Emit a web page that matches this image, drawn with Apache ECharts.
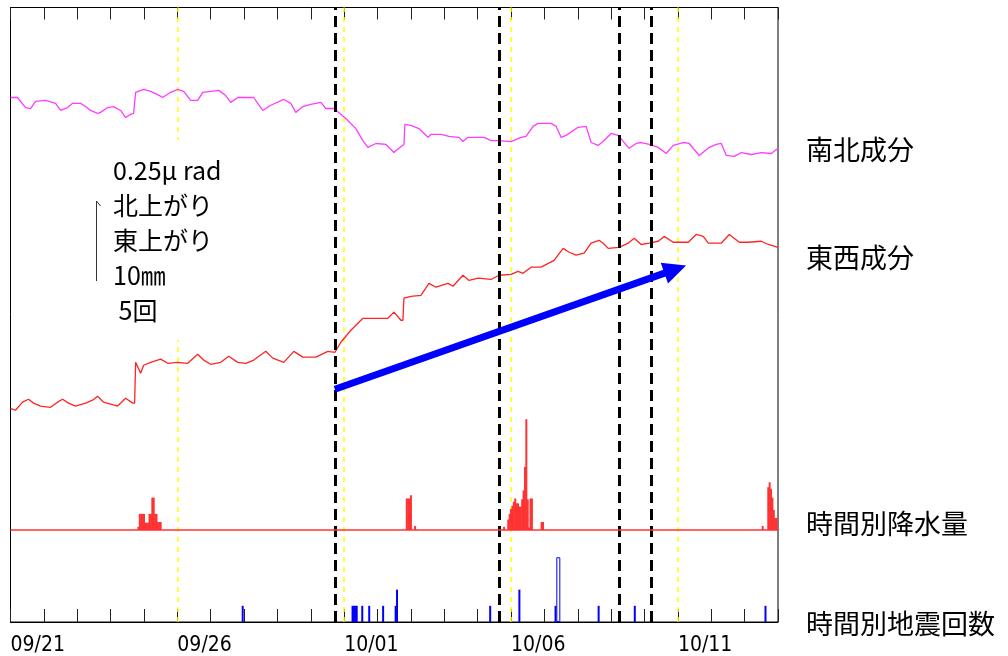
<!DOCTYPE html>
<html>
<head>
<meta charset="utf-8">
<script src="https://cdn.jsdelivr.net/npm/echarts@6/dist/echarts.min.js"></script>
<style>
html,body{margin:0;padding:0;background:#fff;}
#main{width:1008px;height:656px;}
</style>
</head>
<body>
<div id="main"></div>
<script>
// ---- data (x in days from 09/21 00:00 for tilt; hours for rain/quakes) ----
const tickLabels = ['09/21', '09/26', '10/01', '10/06', '10/11'];
const tickLabelDays = [0, 5, 10, 15, 20];
const guideDays = [5, 10, 15, 20];

// 南北成分 (μrad, relative)
const nsTilt = [[0,1.620],[0.21,1.620],[0.45,1.589],[0.60,1.586],[0.75,1.608],[1.05,1.611],[1.35,1.602],[1.50,1.580],[1.71,1.589],[1.86,1.602],[2.10,1.602],[2.25,1.592],[2.40,1.580],[2.61,1.571],[2.70,1.574],[2.91,1.589],[3.09,1.592],[3.30,1.580],[3.45,1.558],[3.60,1.568],[3.69,1.571],[3.75,1.636],[3.99,1.645],[4.20,1.639],[4.41,1.629],[4.56,1.620],[4.80,1.636],[5.01,1.645],[5.19,1.639],[5.40,1.611],[5.61,1.611],[5.76,1.636],[6.00,1.639],[6.24,1.642],[6.45,1.626],[6.60,1.605],[6.81,1.620],[7.29,1.620],[7.41,1.602],[7.56,1.580],[7.80,1.596],[8.19,1.614],[8.40,1.602],[8.55,1.574],[8.76,1.592],[9.00,1.599],[9.30,1.605],[9.45,1.586],[9.69,1.586],[10.05,1.555],[10.35,1.524],[10.56,1.487],[10.71,1.466],[10.95,1.478],[11.25,1.475],[11.49,1.450],[11.64,1.463],[11.79,1.475],[11.82,1.537],[12.00,1.534],[12.24,1.524],[12.51,1.497],[12.60,1.506],[12.90,1.506],[13.14,1.500],[13.44,1.497],[13.56,1.484],[13.71,1.497],[14.19,1.497],[14.40,1.487],[14.64,1.487],[15.00,1.484],[15.30,1.497],[15.45,1.500],[15.66,1.531],[15.81,1.540],[16.20,1.540],[16.35,1.531],[16.50,1.497],[16.65,1.503],[17.01,1.528],[17.25,1.531],[17.40,1.481],[17.61,1.472],[17.79,1.487],[18.00,1.509],[18.21,1.503],[18.54,1.463],[18.75,1.478],[18.90,1.481],[19.14,1.475],[19.41,1.466],[19.65,1.447],[19.86,1.472],[20.16,1.481],[20.34,1.478],[20.64,1.441],[20.94,1.466],[21.15,1.475],[21.30,1.478],[21.45,1.441],[21.69,1.438],[21.90,1.450],[22.20,1.444],[22.50,1.450],[22.80,1.447],[23.00,1.463]];

// 東西成分 (μrad, relative)
const ewTilt = [[0,0.660],[0.15,0.654],[0.36,0.679],[0.54,0.688],[0.69,0.676],[0.90,0.667],[1.20,0.663],[1.41,0.679],[1.56,0.688],[1.74,0.676],[1.95,0.667],[2.25,0.676],[2.46,0.685],[2.61,0.697],[2.79,0.679],[3.00,0.673],[3.21,0.667],[3.45,0.691],[3.66,0.676],[3.72,0.676],[3.75,0.802],[3.90,0.768],[3.99,0.793],[4.20,0.802],[4.50,0.812],[4.71,0.799],[5.01,0.802],[5.31,0.799],[5.61,0.827],[5.79,0.809],[6.00,0.796],[6.30,0.802],[6.54,0.821],[6.81,0.802],[7.05,0.799],[7.29,0.809],[7.65,0.836],[7.86,0.815],[8.19,0.802],[8.49,0.836],[8.76,0.818],[9.15,0.818],[9.51,0.836],[9.72,0.833],[9.90,0.864],[10.20,0.901],[10.56,0.938],[10.80,0.938],[11.01,0.938],[11.31,0.938],[11.49,0.957],[11.70,0.932],[11.76,0.932],[11.79,1.000],[12.00,1.006],[12.30,1.009],[12.54,1.046],[12.75,1.034],[13.11,1.046],[13.26,1.037],[13.56,1.071],[13.74,1.055],[14.01,1.062],[14.40,1.058],[14.64,1.071],[15.00,1.074],[15.21,1.083],[15.36,1.077],[15.60,1.096],[15.90,1.096],[16.29,1.117],[16.56,1.154],[16.74,1.142],[16.95,1.133],[17.19,1.139],[17.40,1.170],[17.64,1.179],[17.76,1.170],[17.91,1.154],[18.24,1.157],[18.51,1.170],[18.69,1.185],[18.90,1.166],[19.14,1.170],[19.41,1.176],[19.59,1.191],[19.86,1.173],[20.31,1.173],[20.55,1.197],[20.76,1.191],[20.91,1.170],[21.30,1.170],[21.54,1.197],[21.84,1.173],[22.11,1.173],[22.50,1.176],[22.71,1.166],[23.00,1.157]];

// 時間別降水量 [hour, mm]
const rainHourly = [[92,0.4],[93,2],[94,2],[95,2],[96,2],[97,0.9],[98,0.9],[99,0.9],[100,2],[101,2],[102,4],[103,4],[104,2],[105,2],[106,1],[107,1],[108,1],
  [285,3.9],[286,3.9],[287,3.9],[288,4.3],[291,0.5],
  [355,0.4],[358,1.3],[359,2.0],[360,2.6],[361,3.0],[362,3.5],[363,3.9],[364,3.3],[365,3.3],[366,2.9],[367,2.9],[368,3.8],[369,4.9],[370,7.8],[371,13.7],[372,3.8],[373,0.3],[374,3.9],[375,3.9],[382,1.0],[383,1.0],
  [541,0.5],[545,5.3],[546,5.9],[547,5.1],[548,4.0],[549,2.5],[550,1.5],[551,1.5]];

// 時間別地震回数 [hour, count]
const quakeHourly = [[167,1],[246,1],[247,1],[248,1],[249,1],[253,1],[258,1],[268,1],[277,1],[278,2],[345,1],[366,2],[392,1],[423,1],[449,1],[543,1]];
const quakeHollow = [[394,4]];

// annotations
const eventDays = [9.72, 14.64, 18.24, 19.20];
const arrowFrom = [9.72, 0.719];
const arrowTo = [19.92, 1.089];
const noteLines = ['0.25μ rad', '北上がり', '東上がり', '10㎜', ' 5回'];
const rightLabels = ['南北成分', '東西成分', '時間別降水量', '時間別地震回数'];

// ---- chart ----
const chart = echarts.init(document.getElementById('main'), null, {renderer: 'canvas'});
const cjk = '"Noto Sans CJK JP", "Noto Sans", sans-serif';
const GRID = {left: 10.5, top: 7.5, width: 767.5, height: 614.5};

const hiddenHours = () => ({type: 'value', min: 0, max: 552, show: false, axisLine: {onZero: false}, splitLine: {show: false}});

const option = {
  animation: false,
  backgroundColor: '#fff',
  grid: {left: GRID.left, top: GRID.top, width: GRID.width, height: GRID.height, show: true, borderColor: '#000', borderWidth: 1, containLabel: false},
  xAxis: [
    { // 0: bottom main axis (days)
      type: 'value', min: 0, max: 23, interval: 1, position: 'bottom',
      axisLine: {show: true, onZero: false, lineStyle: {color: '#000', width: 1}},
      axisTick: {show: true, inside: true, length: 13, lineStyle: {color: '#222'}},
      splitLine: {show: false},
      axisLabel: {
        show: true, margin: 13, align: 'left', color: '#000', fontSize: 21,
        fontFamily: '"Liberation Sans Narrow", "DejaVu Sans Condensed", "Liberation Mono", monospace',
        formatter: function (v) { const i = tickLabelDays.indexOf(v); return i >= 0 ? tickLabels[i] : ''; }
      }
    },
    { // 1: top ticks
      type: 'value', min: 0, max: 23, interval: 1, position: 'top',
      axisLine: {show: true, onZero: false, lineStyle: {color: '#000', width: 1}},
      axisTick: {show: true, inside: true, length: 12, lineStyle: {color: '#222'}},
      axisLabel: {show: false}, splitLine: {show: false}
    },
    hiddenHours(), // 2: rain hours
    hiddenHours(), // 3: quake hours
    hiddenHours()  // 4: hollow quake hours
  ],
  yAxis: [
    {type: 'value', min: 0, max: 1.898, show: false, splitLine: {show: false}},      // tilt μrad (0.25 μrad = 81px)
    {type: 'value', min: -11.36, max: 64.57, show: false, splitLine: {show: false}}, // rain mm (10mm = 81px)
    {type: 'value', min: 0, max: 37.96, show: false, splitLine: {show: false}}       // quakes (5 = 81px)
  ],
  series: [
    { // yellow 5-day guide lines
      name: 'guides', type: 'line', xAxisIndex: 0, yAxisIndex: 0, data: [], z: 1,
      markLine: {
        silent: true, z: 1, symbol: ['none', 'none'], label: {show: false},
        lineStyle: {color: '#ffff00', type: [5, 5], width: 1.5},
        data: guideDays.map(d => ({xAxis: d}))
      }
    },
    {
      name: '南北成分', type: 'line', xAxisIndex: 0, yAxisIndex: 0, data: nsTilt,
      showSymbol: false, symbol: 'none', lineStyle: {color: '#ff3cff', width: 1.3}, z: 3
    },
    {
      name: '東西成分', type: 'line', xAxisIndex: 0, yAxisIndex: 0, data: ewTilt,
      showSymbol: false, symbol: 'none', lineStyle: {color: '#ff2424', width: 1.3}, z: 3,
      markLine: {
        silent: true, symbol: ['none', 'none'], label: {show: false},
        lineStyle: {color: '#000', type: [11, 6], width: 3},
        data: eventDays.map(d => ({xAxis: d}))
      }
    },
    {
      name: '時間別降水量', type: 'bar', xAxisIndex: 2, yAxisIndex: 1, data: rainHourly,
      barWidth: 2, itemStyle: {color: '#ff3333'}, z: 2,
      markLine: {
        silent: true, symbol: ['none', 'none'], label: {show: false},
        lineStyle: {color: '#ff3333', type: 'solid', width: 1.6},
        data: [{yAxis: 0}]
      }
    },
    {
      name: '時間別地震回数', type: 'bar', xAxisIndex: 3, yAxisIndex: 2, data: quakeHourly,
      barWidth: 2, itemStyle: {color: '#0000ff'}, z: 2
    },
    {
      name: '時間別地震回数2', type: 'bar', xAxisIndex: 4, yAxisIndex: 2, data: quakeHollow,
      barWidth: 4, itemStyle: {color: '#ffffff', borderColor: '#0000ff', borderWidth: 1}, z: 2
    },
    { // blue trend arrow
      name: 'arrow', type: 'line', xAxisIndex: 0, yAxisIndex: 0, data: [], z: 5,
      markLine: {
        silent: true, symbol: ['none', 'triangle'], symbolSize: [22, 23], label: {show: false},
        lineStyle: {color: '#0000ff', type: 'solid', width: 7},
        itemStyle: {color: '#0000ff'},
        data: [[{coord: arrowFrom}, {coord: arrowTo}]]
      }
    }
  ],
  graphic: [
    {type: 'rect', z: 10, shape: {x: 105, y: 140, width: 140, height: 200}, style: {fill: '#fff'}},
    {type: 'polyline', z: 11, shape: {points: [[96.5, 281], [96.5, 201], [100.5, 206]]}, style: {stroke: '#333', lineWidth: 1, fill: null}},
    ...noteLines.map((t, i) => ({
      type: 'text', z: 12, x: 113, y: 170 + i * 35,
      style: {text: t, font: '25px ' + cjk, fill: '#000', verticalAlign: 'middle', textVerticalAlign: 'middle'}
    })),
    ...rightLabels.map((t, i) => ({
      type: 'text', z: 12, x: 806, y: [150, 258, 524, 624][i],
      style: {text: t, font: '27px ' + cjk, fill: '#000', verticalAlign: 'middle', textVerticalAlign: 'middle'}
    }))
  ]
};
chart.setOption(option);
</script>
</body>
</html>
